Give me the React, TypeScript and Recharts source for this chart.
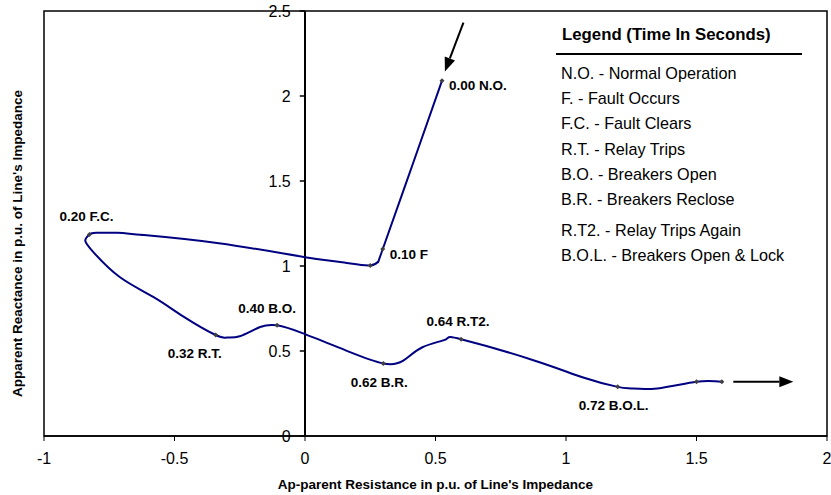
import React from "react";
import {
  ComposedChart,
  Line,
  Scatter,
  XAxis,
  YAxis,
  ReferenceLine,
  ReferenceArea,
} from "recharts";

// impedance trajectory, traced point by point (R, X in p.u.)
const pathR = [
  0.525, 0.413, 0.298, 0.28, 0.25, 0.15, 0.0, -0.33, -0.63, -0.72, -0.8, -0.826,
  -0.842, -0.81, -0.71, -0.58, -0.467, -0.342, -0.3, -0.25, -0.172, -0.107,
  -0.01, 0.17, 0.3, 0.375, 0.45, 0.54, 0.598, 0.875, 1.066, 1.198, 1.25, 1.35,
  1.5, 1.597,
];
const pathX = [
  2.09, 1.6, 1.1, 1.025, 1.003, 1.02, 1.052, 1.134, 1.184, 1.195, 1.195, 1.185,
  1.15, 1.08, 0.935, 0.817, 0.704, 0.594, 0.579, 0.587, 0.641, 0.651, 0.605,
  0.495, 0.427, 0.442, 0.522, 0.569, 0.569, 0.446, 0.344, 0.289, 0.28, 0.28,
  0.319, 0.319,
];

// sampled instants shown as small markers
const markR = [0.525, 0.298, 0.25, -0.826, -0.342, -0.107, 0.3, 0.598, 1.198, 1.5, 1.597];
const markX = [2.09, 1.1, 1.003, 1.185, 0.594, 0.651, 0.427, 0.569, 0.289, 0.319, 0.319];
const markText = ["0.00 N.O.", "0.10 F", "", "0.20 F.C.", "0.32 R.T.", "0.40 B.O.", "0.62 B.R.", "0.64 R.T2.", "0.72 B.O.L.", "", ""];
const markSide = ["right", "right", "", "top", "bottomLeft", "topLeft", "bottom", "top", "bottom", "", ""];

// annotation arrows [fromR, fromX, toR, toX]
const arrows = [
  [0.607, 2.431, 0.536, 2.144],
  [1.641, 0.319, 1.871, 0.319],
];

const xTicks = [-1, -0.5, 0, 0.5, 1, 1.5, 2];
const yTicks = [0, 0.5, 1, 1.5, 2, 2.5];

const legendTitle = "Legend (Time In Seconds)";
const legendItems = [
  "N.O. - Normal Operation",
  "F. - Fault Occurs",
  "F.C. - Fault Clears",
  "R.T. - Relay Trips",
  "B.O. - Breakers Open",
  "B.R. - Breakers Reclose",
  "R.T2. - Relay Trips Again",
  "B.O.L. - Breakers Open & Lock",
];

const FONT = '"Liberation Sans", Arial, sans-serif';

const pathData = pathR.map((r, i) => ({ x: r, y: pathX[i] }));
const markData = markR.map((r, i) => ({ x: r, y: markX[i], text: markText[i], side: markSide[i] }));

const Marker = (props: any) => {
  const { cx, cy, payload } = props;
  const s = 2.5;
  let label = null;
  if (payload.text) {
    let tx = cx, ty = cy, anchor = "middle";
    if (payload.side === "right") { tx = cx + 7; ty = cy + 5; anchor = "start"; }
    if (payload.side === "top") { tx = cx - 3; ty = cy - 18; }
    if (payload.side === "topLeft") { tx = cx - 10; ty = cy - 17; }
    if (payload.side === "bottom") { tx = cx - 4; ty = cy + 19; }
    if (payload.side === "bottomLeft") { tx = cx + 6; ty = cy + 18; anchor = "end"; }
    label = (
      <text x={tx} y={ty} textAnchor={anchor} dominantBaseline="central"
        fontFamily={FONT} fontSize={13.5} fontWeight="bold" fill="#000">
        {payload.text}
      </text>
    );
  }
  return (
    <g>
      <polygon points={`${cx},${cy - s} ${cx + s},${cy} ${cx},${cy + s} ${cx - s},${cy}`} fill="#404040" />
      {label}
    </g>
  );
};

const Arrow = (props: any) => {
  const { x1, y1, x2, y2 } = props;
  const a = Math.atan2(y2 - y1, x2 - x1);
  const len = 14, half = 5.5;
  const bx = x2 - len * Math.cos(a), by = y2 - len * Math.sin(a);
  const px = -Math.sin(a) * half, py = Math.cos(a) * half;
  return (
    <g>
      <line x1={x1} y1={y1} x2={bx} y2={by} stroke="#000" strokeWidth={2} />
      <polygon points={`${x2},${y2} ${bx + px},${by + py} ${bx - px},${by - py}`} fill="#000" />
    </g>
  );
};

const YTitle = (props: any) => {
  const vb = props.viewBox;
  const cx = vb.x + 17;
  const cy = vb.y + vb.height / 2 + 20;
  return (
    <text x={cx} y={cy} transform={`rotate(-90 ${cx} ${cy})`} textAnchor="middle"
      dominantBaseline="central" fontFamily={FONT} fontSize={13.5} fontWeight="bold" fill="#000">
      Apparent Reactance in p.u. of Line's Impedance
    </text>
  );
};

const XTitle = (props: any) => {
  const vb = props.viewBox;
  return (
    <text x={vb.x + vb.width / 2} y={484} textAnchor="middle" dominantBaseline="central"
      fontFamily={FONT} fontSize={13.5} fontWeight="bold" fill="#000">
      Ap-parent Resistance in p.u. of Line's Impedance
    </text>
  );
};

export default function App() {
  return (
    <div style={{ position: "absolute", left: 0, top: 0, width: 831, height: 495, background: "#fff", fontFamily: FONT }}>
      <ComposedChart width={831} height={495} margin={{ top: 11, right: 4, bottom: 0, left: 0 }}>
        <XAxis
          type="number"
          dataKey="x"
          domain={[-1, 2]}
          ticks={xTicks}
          allowDataOverflow
          height={59}
          tickSize={5}
          tickMargin={12}
          axisLine={{ stroke: "#000", strokeWidth: 1.5 }}
          tickLine={{ stroke: "#000" }}
          tick={{ fontSize: 16, fill: "#000", fontFamily: FONT }}
          label={{ content: XTitle }}
        />
        <YAxis
          type="number"
          dataKey="y"
          domain={[0, 2.5]}
          ticks={yTicks}
          allowDataOverflow
          width={44}
          tick={false}
          axisLine={false}
          tickLine={false}
          label={{ content: YTitle }}
        />
        <ReferenceArea x1={-1} x2={2} y1={0} y2={2.5} fill="none" stroke="#000" strokeWidth={1.5} fillOpacity={0} />
        <ReferenceLine x={0} stroke="#000" strokeWidth={2} />
        {yTicks.map((v) => (
          <ReferenceLine
            key={v}
            segment={[{ x: -0.02, y: v }, { x: 0, y: v }]}
            stroke="#000"
            strokeWidth={1.5}
            label={{ value: String(v), position: "left", offset: 9, fontSize: 16, fill: "#000", fontFamily: FONT }}
          />
        ))}
        <Line
          data={pathData}
          dataKey="y"
          type="natural"
          stroke="#000080"
          strokeWidth={2}
          dot={false}
          activeDot={false}
          isAnimationActive={false}
        />
        <Scatter data={markData} dataKey="y" shape={Marker} isAnimationActive={false} />
        {arrows.map((a, i) => (
          <ReferenceLine
            key={"arrow" + i}
            segment={[{ x: a[0], y: a[1] }, { x: a[2], y: a[3] }]}
            shape={Arrow}
          />
        ))}
      </ComposedChart>
      <div style={{ position: "absolute", left: 562, top: 25, fontSize: 16.8, fontWeight: "bold", lineHeight: "20px", color: "#000", whiteSpace: "nowrap" }}>
        {legendTitle}
      </div>
      <div style={{ position: "absolute", left: 556, top: 53, width: 246, height: 2, background: "#000" }} />
      {legendItems.map((t, i) => (
        <div key={t} style={{ position: "absolute", left: 561, top: 63 + i * 25.2 + (i >= 6 ? 5.5 : 0), fontSize: 16.2, lineHeight: "20px", color: "#000", whiteSpace: "nowrap" }}>
          {t}
        </div>
      ))}
    </div>
  );
}
